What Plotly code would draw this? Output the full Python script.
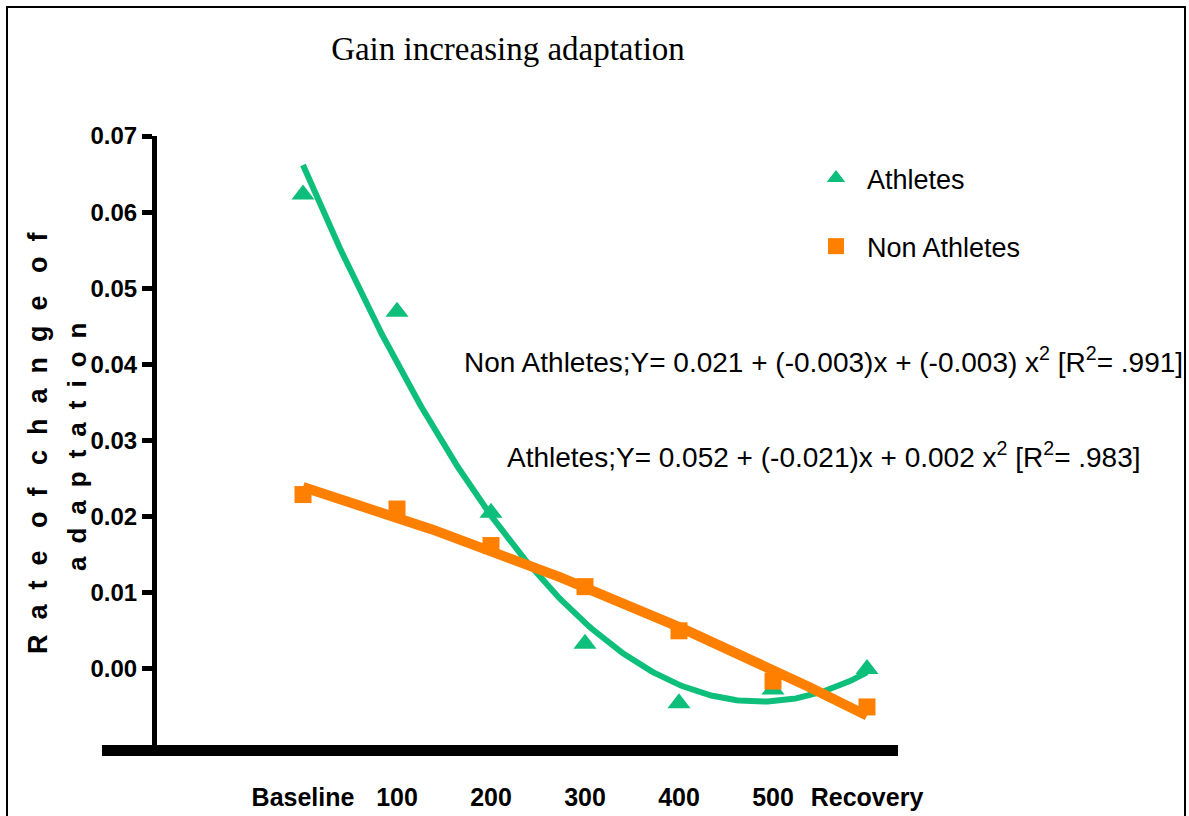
import numpy as np
import plotly.graph_objects as go

categories = ["Baseline", "100", "200", "300", "400", "500", "Recovery"]
athletes = [0.0623, 0.0469, 0.0205, 0.0033, -0.0045, -0.0027, 0.0000]
non_athletes = [0.0229, 0.0210, 0.0162, 0.0108, 0.0050, -0.0016, -0.0050]
y_ticks = [0.00, 0.01, 0.02, 0.03, 0.04, 0.05, 0.06, 0.07]

GREEN = "#0dbf7a"
ORANGE = "#ff7f00"
SANS = "Liberation Sans, Arial, sans-serif"

W, H = 1189, 816
# plot area in page pixels
PL, PR, PT, PB = 102, 898, 136, 745


def px(x):
    """page x pixel -> paper fraction"""
    return (x - PL) / (PR - PL)


def py(y):
    """page y pixel -> paper fraction"""
    return (PB - y) / (PB - PT)


xi = np.arange(len(categories))
xs = np.linspace(0, len(categories) - 1, 200)
fit_a = np.polyval(np.polyfit(xi, athletes, 2), xs)
fit_n = np.polyval(np.polyfit(xi, non_athletes, 2), xs)

fig = go.Figure()
fig.add_trace(go.Scatter(x=xi, y=athletes, mode="markers", name="Athletes",
                         legendgroup="a",
                         marker=dict(symbol="triangle-up", size=20, color=GREEN)))
fig.add_trace(go.Scatter(x=xi, y=non_athletes, mode="markers", name="Non Athletes",
                         legendgroup="n",
                         marker=dict(symbol="square", size=17, color=ORANGE)))
fig.add_trace(go.Scatter(x=xs, y=fit_a, mode="lines", showlegend=False,
                         line=dict(color=GREEN, width=6)))
fig.add_trace(go.Scatter(x=xs, y=fit_n, mode="lines", showlegend=False,
                         line=dict(color=ORANGE, width=10)))

x0 = (PL - 303) / 94
x1 = (PR - 303) / 94

fig.update_layout(
    width=W, height=H,
    margin=dict(l=PL, r=W - PR, t=PT, b=H - PB, pad=0, autoexpand=False),
    paper_bgcolor="white", plot_bgcolor="white",
    title=dict(text="Gain increasing adaptation", x=508 / W, xanchor="center",
               y=1 - 48 / H, yanchor="middle",
               font=dict(family="Liberation Serif, serif", size=33, color="black")),
    legend=dict(x=px(805), y=py(154), xanchor="left", yanchor="top",
                font=dict(family=SANS, size=27, color="black"), itemwidth=52,
                tracegroupgap=30, bgcolor="rgba(0,0,0,0)", itemsizing="trace"),
    xaxis=dict(range=[x0, x1], showgrid=False, zeroline=False, automargin=False,
               showline=True, linecolor="black", linewidth=11,
               tickmode="array", tickvals=list(xi), ticktext=categories,
               ticks="", tickangle=0, ticklabelstandoff=20,
               tickfont=dict(family=SANS, size=25, color="black", weight="bold")),
    yaxis=dict(range=[-0.0100, 0.0700], showgrid=False, zeroline=False, automargin=False,
               anchor="free", position=px(154),
               showline=True, linecolor="black", linewidth=5,
               tickmode="array", tickvals=y_ticks,
               ticktext=[f"{v:.2f}" for v in y_ticks],
               ticks="outside", ticklen=10, tickwidth=5, tickcolor="black",
               tickfont=dict(family=SANS, size=24, color="black", weight="bold")),
)

fig.add_annotation(text="Non Athletes;Y= 0.021 + (-0.003)x + (-0.003) x<sup>2</sup> [R<sup>2</sup>= .991]",
                   xref="paper", yref="paper", x=px(823), y=py(360),
                   xanchor="center", yanchor="middle", showarrow=False,
                   font=dict(family=SANS, size=28, color="black"))
fig.add_annotation(text="Athletes;Y= 0.052 + (-0.021)x + 0.002 x<sup>2</sup> [R<sup>2</sup>= .983]",
                   xref="paper", yref="paper", x=px(824), y=py(455),
                   xanchor="center", yanchor="middle", showarrow=False,
                   font=dict(family=SANS, size=28, color="black"))

line1 = "R  a  t  e   o  f   c  h  a  n  g  e   o  f"
line2 = "\u2002".join("adaptation")
fig.add_annotation(text=line1, xref="paper", yref="paper", x=px(38), y=py(443),
                   xanchor="center", yanchor="middle", textangle=-90, showarrow=False,
                   font=dict(family=SANS, size=27, color="black", weight="bold"))
fig.add_annotation(text=line2, xref="paper", yref="paper", x=px(77), y=py(447),
                   xanchor="center", yanchor="middle", textangle=-90, showarrow=False,
                   font=dict(family=SANS, size=26, color="black", weight="bold"))

# outer frame
fig.add_shape(type="rect", xref="paper", yref="paper",
              x0=px(7), x1=px(1185), y0=py(860), y1=py(7),
              line=dict(color="black", width=2), fillcolor="rgba(0,0,0,0)", layer="above")

fig.write_html("out.html", config={"displayModeBar": False},
               post_script="document.body.style.margin='0';"
                           "document.body.style.overflow='hidden';")
